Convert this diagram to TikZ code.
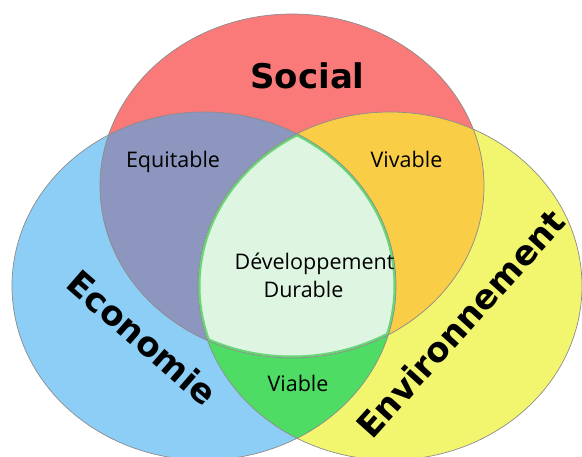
\documentclass[tikz,border=0pt]{standalone}
\usepackage{fontspec}
\setmainfont{Open Sans}
\newfontfamily\pilierfont{DejaVu Sans}

\definecolor{socialred}{RGB}{250,122,122}
\definecolor{ecoblue}{RGB}{140,206,245}
\definecolor{envyellow}{RGB}{242,245,110}
\definecolor{equipurple}{RGB}{140,150,190}
\definecolor{vivorange}{RGB}{249,205,70}
\definecolor{viagreen}{RGB}{78,220,100}
\definecolor{durmint}{RGB}{222,245,226}
\definecolor{durborder}{RGB}{105,215,120}

\def\socialellipse{(soc) ellipse [x radius=192pt, y radius=172pt]}
\def\ecoellipse{(eco) ellipse [x radius=192pt, y radius=174pt]}
\def\envellipse{(env) ellipse [x radius=192pt, y radius=174pt]}

\begin{document}
\begin{tikzpicture}[x=1pt, y=-1pt,
every node/.style={anchor=base, inner sep=0pt},
zone/.style={font=\fontsize{21.5}{24}\selectfont},
pilier/.style={font=\pilierfont\bfseries\fontsize{34}{40}\selectfont}
]
\useasboundingbox (0,0) rectangle (582,457);
\clip (0,0) rectangle (582,457);

\coordinate (soc) at (292,186);
\coordinate (eco) at (204,286);
\coordinate (env) at (390,286);

\fill[ecoblue] \ecoellipse;
\fill[envyellow] \envellipse;
\fill[socialred] \socialellipse;

% pairwise overlaps
\begin{scope}
  \clip \socialellipse;
  \fill[equipurple] \ecoellipse;
  \fill[vivorange] \envellipse;
\end{scope}
\begin{scope}
  \clip \ecoellipse;
  \fill[viagreen] \envellipse;
\end{scope}

% centre
\begin{scope}
  \clip \socialellipse; \clip \ecoellipse; \clip \envellipse;
  \fill[durmint] \socialellipse;
  \draw[durborder, line width=5pt] \socialellipse \ecoellipse \envellipse;
\end{scope}

\draw[black!45, line width=.7pt] \socialellipse \ecoellipse \envellipse;

\node[pilier] (social) at (307.5,89) {Social};
\node[pilier, rotate=-41] (economie) at (134,347.5) {Economie};
\node[pilier, rotate=48] (environnement) at (470,332) {Environnement};

\node[zone] (equitable) at (173,168) {Equitable};
\node[zone] (vivable) at (406.5,168) {Vivable};
\node[zone] (viable) at (298,391.5) {Viable};
\node[zone] (dev) at (314.5,270) {Développement};
\node[zone] (durable) at (303.5,297.5) {Durable};
\end{tikzpicture}
\end{document}
